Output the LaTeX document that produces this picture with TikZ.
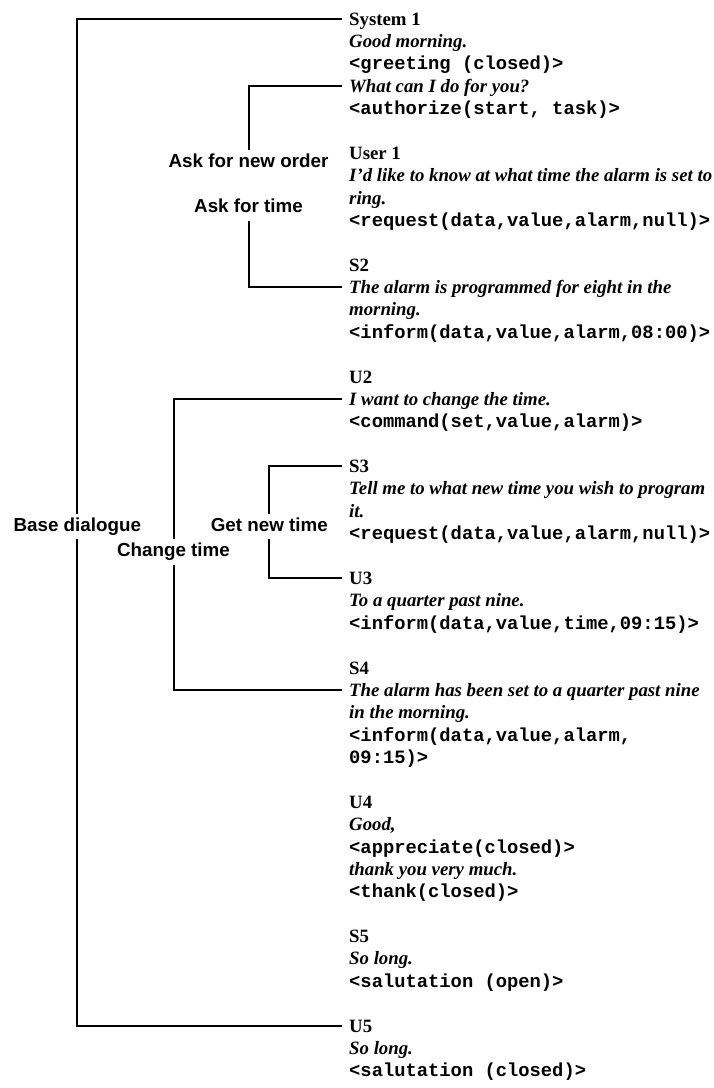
\documentclass[tikz,border=0pt]{standalone}
\usepackage{fontspec}
\setmainfont{Liberation Serif}
\setmonofont{Liberation Mono}
\setsansfont{Liberation Sans}
\begin{document}
\begin{tikzpicture}[x=1pt,y=-1pt,
  ln/.style={anchor=base west, inner sep=0pt},
  who/.style={ln, font=\fontsize{18.8}{22.38}\selectfont\bfseries},
  say/.style={ln, font=\fontsize{18.8}{22.38}\selectfont\bfseries\itshape},
  act/.style={ln, font=\fontsize{18.8}{22.38}\selectfont\ttfamily\bfseries},
  lab/.style={anchor=base, fill=white, inner sep=4pt, text height=13.5pt, text depth=4pt,
    font=\fontsize{18.8}{22.38}\selectfont\sffamily\bfseries},
  br/.style={line width=2pt}
]
\useasboundingbox (0,0) rectangle (713,1088);
% text lines
\node[who] (l0)  at (349,{25+22.38*0})  {System 1};
\node[say] (l1)  at (349,{25+22.38*1})  {Good morning.};
\node[act] (l2)  at (349,{25+22.38*2})  {<greeting (closed)>};
\node[say] (l3)  at (349,{25+22.38*3})  {What can I do for you?};
\node[act] (l4)  at (349,{25+22.38*4})  {<authorize(start, task)>};
\node[who] (l6)  at (349,{25+22.38*6})  {User 1};
\node[say] (l7)  at (349,{25+22.38*7})  {I’d like to know at what time the alarm is set to};
\node[say] (l8)  at (349,{25+22.38*8})  {ring.};
\node[act] (l9)  at (349,{25+22.38*9})  {<request(data,value,alarm,null)>};
\node[who] (l11) at (349,{25+22.38*11}) {S2};
\node[say] (l12) at (349,{25+22.38*12}) {The alarm is programmed for eight in the};
\node[say] (l13) at (349,{25+22.38*13}) {morning.};
\node[act] (l14) at (349,{25+22.38*14}) {<inform(data,value,alarm,08:00)>};
\node[who] (l16) at (349,{25+22.38*16}) {U2};
\node[say] (l17) at (349,{25+22.38*17}) {I want to change the time.};
\node[act] (l18) at (349,{25+22.38*18}) {<command(set,value,alarm)>};
\node[who] (l20) at (349,{25+22.38*20}) {S3};
\node[say] (l21) at (349,{25+22.38*21}) {Tell me to what new time you wish to program};
\node[say] (l22) at (349,{25+22.38*22}) {it.};
\node[act] (l23) at (349,{25+22.38*23}) {<request(data,value,alarm,null)>};
\node[who] (l25) at (349,{25+22.38*25}) {U3};
\node[say] (l26) at (349,{25+22.38*26}) {To a quarter past nine.};
\node[act] (l27) at (349,{25+22.38*27}) {<inform(data,value,time,09:15)>};
\node[who] (l29) at (349,{25+22.38*29}) {S4};
\node[say] (l30) at (349,{25+22.38*30}) {The alarm has been set to a quarter past nine};
\node[say] (l31) at (349,{25+22.38*31}) {in the morning.};
\node[act] (l32) at (349,{25+22.38*32}) {<inform(data,value,alarm,};
\node[act] (l33) at (349,{25+22.38*33}) {09:15)>};
\node[who] (l35) at (349,{25+22.38*35}) {U4};
\node[say] (l36) at (349,{25+22.38*36}) {Good,};
\node[act] (l37) at (349,{25+22.38*37}) {<appreciate(closed)>};
\node[say] (l38) at (349,{25+22.38*38}) {thank you very much.};
\node[act] (l39) at (349,{25+22.38*39}) {<thank(closed)>};
\node[who] (l41) at (349,{25+22.38*41}) {S5};
\node[say] (l42) at (349,{25+22.38*42}) {So long.};
\node[act] (l43) at (349,{25+22.38*43}) {<salutation (open)>};
\node[who] (l45) at (349,{25+22.38*45}) {U5};
\node[say] (l46) at (349,{25+22.38*46}) {So long.};
\node[act] (l47) at (349,{25+22.38*47}) {<salutation (closed)>};
% bracket ends
\foreach \i in {0,3,12,17,20,25,30,45}
  \coordinate (a\i) at ([xshift=-7pt,yshift=6.5pt]l\i.base west);
\coordinate (xb) at (77.3,0);
\coordinate (xa) at (248.5,0);
\coordinate (xc) at (173.5,0);
\coordinate (xg) at (269.3,0);
% brackets
\draw[br] (a0) -- (a0 -| xb) -- (a45 -| xb) -- (a45);
\draw[br] (a17) -- (a17 -| xc) -- (a30 -| xc) -- (a30);
\draw[br] (a20) -- (a20 -| xg) -- (a25 -| xg) -- (a25);
% labels
\node[lab] (base) at (77.3,531) {Base dialogue};
\node[lab] (chg) at (173.5,556.7) {Change time};
\node[lab] (get) at (269.3,531) {Get new time};
\node[lab] (ask1) at (248.5,167.3) {Ask for new order};
\node[lab] (ask2) at (248.5,212.3) {Ask for time};
\draw[br] (a3) -- (a3 -| xa) -- (ask1.north);
\draw[br] (ask2.south) -- (a12 -| xa) -- (a12);
\end{tikzpicture}
\end{document}
